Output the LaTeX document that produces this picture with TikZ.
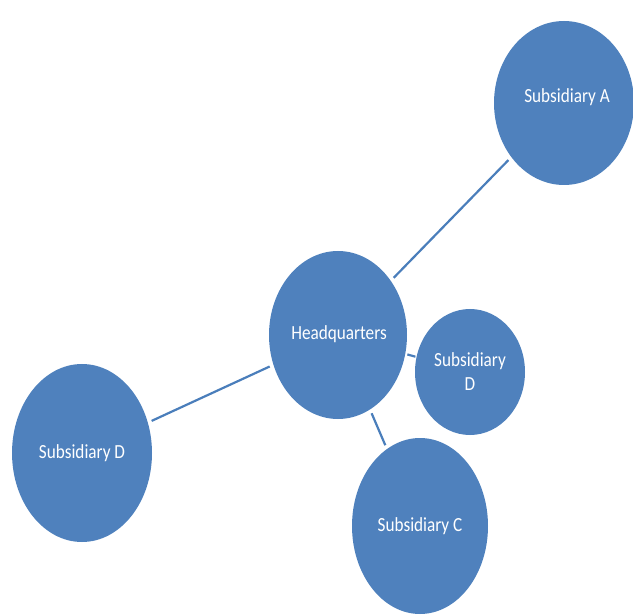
\documentclass[tikz,border=0pt]{standalone}
\usepackage{fontspec}
\setmainfont[FakeStretch=0.86]{Carlito}
\usetikzlibrary{shapes.geometric}
\definecolor{bubblefill}{HTML}{4F81BD}
\definecolor{linkline}{HTML}{4A7EBB}
\tikzset{
  bubbletext/.style={text=white, font=\fontsize{20}{24}\selectfont, align=center},
  bubble/.style={ellipse, fill=bubblefill, inner sep=0pt, bubbletext},
  link/.style={draw=linkline, line width=2.2pt, shorten <=4pt, shorten >=4pt}
}
\begin{document}
\begin{tikzpicture}[x=1pt, y=-1pt]
  \useasboundingbox (0,0) rectangle (633,615);
  \clip (0,0) rectangle (633,615);
  % subsidiaries and headquarters
  \node[bubble, minimum width=138pt, minimum height=168pt] (hq) at (338,335) {};
  \node[bubbletext] (hqtext) at (339,334) {Headquarters};
  \node[bubble, minimum width=140pt, minimum height=164pt] (subA) at (564,103) {};
  \node[bubbletext] (subAtext) at (567,97) {Subsidiary A};
  \node[bubble, minimum width=110pt, minimum height=126pt] (subDs) at (470,372) {Subsidiary\\D};
  \node[bubble, minimum width=140pt, minimum height=178pt] (subDl) at (82,453) {Subsidiary D};
  \node[bubble, minimum width=136pt, minimum height=176pt] (subC) at (420,526) {Subsidiary C};
  % reporting lines
  \draw[link] (hq) -- (subA);
  \draw[link, shorten <=2pt, shorten >=1pt] (hq) -- (subDs);
  \draw[link] (hq) -- (subDl);
  \draw[link] (hq) -- (subC);
\end{tikzpicture}
\end{document}
